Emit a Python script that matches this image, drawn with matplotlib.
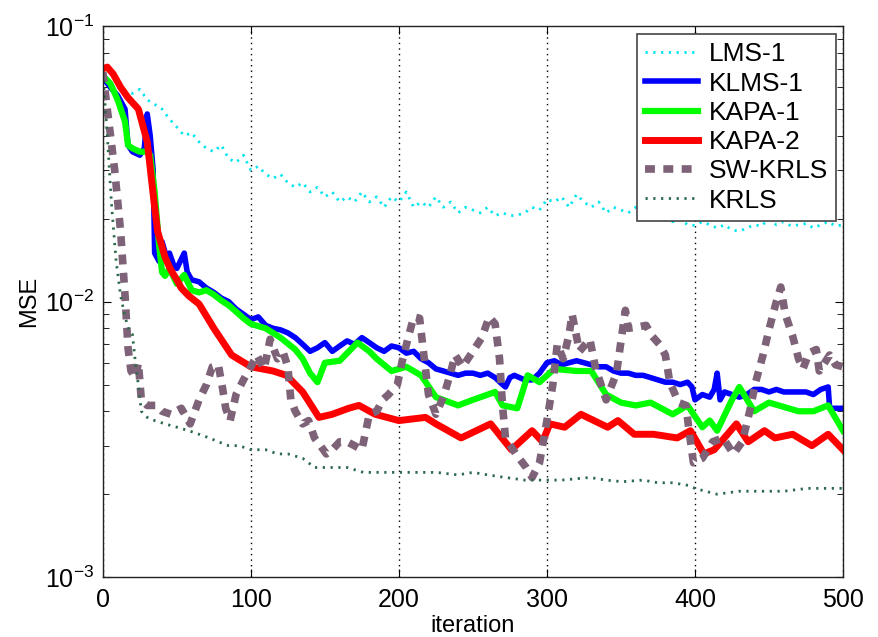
import matplotlib
matplotlib.use("Agg")
import matplotlib.pyplot as plt
from matplotlib.ticker import LogLocator, NullFormatter

plt.rcParams['font.family'] = ['Liberation Sans', 'DejaVu Sans']
plt.rcParams['mathtext.fontset'] = 'custom'
plt.rcParams['mathtext.rm'] = 'Liberation Sans'
plt.rcParams['mathtext.it'] = 'Liberation Sans'

series_names = ["LMS-1", "KLMS-1", "KAPA-1", "KAPA-2", "SW-KRLS", "KRLS"]

lms_x = [5, 10, 15, 20, 25, 30, 35, 40, 45, 50, 55, 60, 65, 70, 75, 80, 85, 90, 95, 100,
         105, 110, 115, 120, 125, 130, 135, 140, 145, 150, 155, 160, 165, 170, 175, 180,
         185, 190, 195, 200, 205, 210, 215, 220, 225, 230, 235, 240, 245, 250, 255, 260,
         265, 270, 275, 280, 285, 290, 295, 300, 305, 310, 315, 320, 325, 330, 335, 340,
         345, 350, 355, 360, 365, 370, 375, 380, 385, 390, 395, 400, 405, 410, 415, 420,
         425, 430, 435, 440, 445, 450, 455, 460, 465, 470, 475, 480, 485, 490, 495, 500]
lms_y = [0.062, 0.060, 0.058, 0.057, 0.059, 0.054, 0.052, 0.050, 0.046, 0.043, 0.040, 0.041, 0.038, 0.036, 0.035, 0.037, 0.033, 0.032, 0.034, 0.030,
         0.031, 0.029, 0.028, 0.029, 0.027, 0.026, 0.027, 0.025, 0.026, 0.024, 0.025, 0.023, 0.024, 0.023, 0.025, 0.023,
         0.024, 0.022, 0.024, 0.023, 0.025, 0.022, 0.023, 0.022, 0.024, 0.022, 0.023, 0.021, 0.022, 0.0215, 0.021, 0.022,
         0.0205, 0.021, 0.0205, 0.0206, 0.021, 0.022, 0.0215, 0.0235, 0.023, 0.024, 0.022, 0.0245, 0.023, 0.022, 0.023, 0.021,
         0.022, 0.0215, 0.021, 0.022, 0.0205, 0.021, 0.020, 0.0205, 0.0195, 0.020, 0.019, 0.0189, 0.0195, 0.019, 0.0185, 0.019,
         0.0182, 0.018, 0.0185, 0.019, 0.0188, 0.020, 0.019, 0.0195, 0.0188, 0.019, 0.0192, 0.0185, 0.019, 0.0195, 0.0188, 0.019]

klms_x = [0, 5, 10, 15, 17, 20, 25, 28, 30, 32, 34, 35, 38, 40, 43, 45, 48, 50, 55, 57, 60, 65, 70, 75, 80, 85, 90,
          95, 100, 105, 110, 115, 120, 125, 130, 135, 140, 145, 150, 155, 160, 165, 170, 175, 180, 185, 190, 195,
          200, 205, 210, 215, 220, 225, 230, 235, 240, 245, 250, 255, 260, 265, 270, 272, 275, 278, 285, 290, 295,
          300, 305, 310, 315, 320, 325, 330, 335, 340, 345, 350, 355, 360, 365, 370, 375, 380, 385, 390, 395, 398,
          400, 405, 410, 413, 415, 417, 420, 425, 430, 435, 440, 445, 450, 455, 460, 465, 470, 475, 480, 485, 490,
          491, 495, 500]
klms_y = [0.065, 0.060, 0.056, 0.050, 0.037, 0.035, 0.034, 0.036, 0.048, 0.040, 0.030, 0.015, 0.014, 0.0165, 0.0145, 0.0150, 0.0135, 0.0132, 0.0150, 0.0128, 0.0120, 0.0118, 0.0112, 0.0108, 0.0103, 0.0100, 0.0094,
          0.0090, 0.0086, 0.0088, 0.0082, 0.0080, 0.0079, 0.0077, 0.0074, 0.0070, 0.0066, 0.0068, 0.0071, 0.0066, 0.0069, 0.0072, 0.0070, 0.0074, 0.0071, 0.0068, 0.0066, 0.0069,
          0.0068, 0.0065, 0.0066, 0.0062, 0.0060, 0.0057, 0.0056, 0.0055, 0.0054, 0.0055, 0.0055, 0.0054, 0.0055, 0.0053, 0.0050, 0.0049, 0.0053, 0.0054, 0.0052, 0.0052, 0.0055,
          0.0060, 0.0061, 0.0059, 0.0060, 0.0061, 0.0060, 0.0059, 0.0058, 0.0058, 0.0056, 0.0055, 0.0055, 0.0054, 0.0054, 0.0053, 0.0052, 0.0051, 0.0051, 0.0050, 0.0051, 0.0049,
          0.0044, 0.0046, 0.0045, 0.0048, 0.0055, 0.0044, 0.0047, 0.0046, 0.0045, 0.0046, 0.0048, 0.0048, 0.0047, 0.0048, 0.0047, 0.0047, 0.0047, 0.0047, 0.0046, 0.0048, 0.0049,
          0.0041, 0.0041, 0.0041]

kapa1_x = [0, 5, 10, 15, 17, 20, 25, 30, 32, 35, 38, 40, 42, 45, 50, 55, 60, 65, 70, 75, 80, 85, 90, 95, 100,
           110, 120, 130, 135, 140, 145, 150, 160, 172, 180, 185, 195, 205, 215, 225, 240, 250, 265, 270, 280,
           287, 295, 305, 320, 330, 340, 350, 360, 370, 385, 395, 405, 410, 415, 425, 430, 440, 450, 470, 480,
           490, 500]
kapa1_y = [0.066, 0.062, 0.054, 0.045, 0.037, 0.036, 0.035, 0.035, 0.034, 0.025, 0.016, 0.0128, 0.0124, 0.0132, 0.0116, 0.0125, 0.0110, 0.0108, 0.0110, 0.0106, 0.0101, 0.0097, 0.0092, 0.0087, 0.0083,
           0.0080, 0.0074, 0.0067, 0.0062, 0.0055, 0.0051, 0.0060, 0.0061, 0.0071, 0.0066, 0.0062, 0.0056, 0.0058, 0.0054, 0.0045, 0.0042, 0.0044, 0.0047, 0.0042, 0.0041,
           0.0054, 0.0051, 0.0057, 0.0056, 0.0056, 0.0046, 0.0043, 0.0042, 0.0043, 0.0039, 0.0042, 0.0035, 0.0037, 0.0034, 0.0044, 0.0049, 0.0040, 0.0043, 0.0040, 0.0040,
           0.0042, 0.0034]

kapa2_x = [0, 3, 7, 12, 17, 24, 30, 35, 37, 42, 46, 50, 53, 58, 65, 75, 87, 100, 115, 124, 135, 146, 155, 166,
           173, 184, 200, 218, 225, 242, 262, 276, 290, 297, 302, 312, 323, 341, 348, 359, 372, 388, 397, 406,
           413, 422, 428, 436, 447, 454, 466, 479, 490, 500]
kapa2_y = [0.070, 0.071, 0.067, 0.060, 0.055, 0.050, 0.038, 0.022, 0.018, 0.0145, 0.0130, 0.0120, 0.0112, 0.0105, 0.0098, 0.0080, 0.0064, 0.0058, 0.0056, 0.0054, 0.0047, 0.0038, 0.0039, 0.0041,
           0.0042, 0.0039, 0.0037, 0.0038, 0.0036, 0.0032, 0.0036, 0.0029, 0.0034, 0.0031, 0.0036, 0.0035, 0.0039, 0.0035, 0.0037, 0.0033, 0.0033, 0.0032, 0.0034, 0.0028,
           0.0029, 0.0033, 0.0036, 0.0031, 0.0034, 0.0032, 0.0033, 0.0030, 0.0033, 0.0029]

swkrls_x = [0, 3, 8, 12, 15, 17, 19, 22, 24, 26, 30, 36, 40, 46, 53, 59, 65, 70, 74, 78, 81, 83, 86, 90, 95, 100,
            104, 109, 113, 118, 122, 125, 127, 130, 135, 139, 143, 147, 151, 155, 160, 165, 170, 175, 180, 185,
            189, 193, 199, 202, 206, 210, 214, 217, 220, 225, 230, 234, 238, 243, 250, 256, 261, 265, 268, 270,
            272, 279, 286, 290, 295, 300, 304, 307, 311, 315, 317, 322, 329, 333, 340, 347, 353, 355, 362, 367,
            371, 376, 380, 383, 389, 394, 396, 399, 405, 412, 419, 426, 432, 437, 441, 446, 450, 455, 458, 461,
            466, 470, 473, 477, 482, 484, 491, 495, 500]
swkrls_y = [0.068, 0.050, 0.030, 0.018, 0.0105, 0.0068, 0.0056, 0.0053, 0.0060, 0.0044, 0.0042, 0.0042, 0.0040, 0.0039, 0.0041, 0.0036, 0.0044, 0.0050, 0.0058, 0.0059, 0.0048, 0.0041, 0.0037, 0.0046, 0.0052, 0.0058,
            0.0064, 0.0057, 0.0073, 0.0062, 0.0065, 0.0058, 0.0044, 0.0040, 0.0036, 0.0037, 0.0032, 0.0030, 0.0028, 0.0029, 0.0031, 0.0031, 0.0030, 0.0029, 0.0039, 0.0040,
            0.0044, 0.0046, 0.0050, 0.0060, 0.0073, 0.0088, 0.0087, 0.0063, 0.0046, 0.0039, 0.0045, 0.0053, 0.0064, 0.0058, 0.0066, 0.0074, 0.0088, 0.0083, 0.0062, 0.0042,
            0.0032, 0.0028, 0.0025, 0.0023, 0.0026, 0.0037, 0.0050, 0.0070, 0.0062, 0.0076, 0.0090, 0.0066, 0.0073, 0.0057, 0.0044, 0.0055, 0.0093, 0.0080, 0.0081, 0.0082,
            0.0075, 0.0070, 0.0064, 0.0051, 0.0043, 0.0042, 0.0034, 0.0026, 0.0027, 0.0031, 0.0032, 0.0028, 0.0031, 0.0040, 0.0051, 0.0064, 0.0079, 0.0100, 0.0113, 0.0090,
            0.0075, 0.0062, 0.0057, 0.0065, 0.0067, 0.0056, 0.0064, 0.0059, 0.0058]

krls_x = [0, 3, 6, 9, 12, 15, 18, 20, 22, 24, 26, 30, 35, 42, 50, 58, 65, 72, 78, 85, 92, 100, 110, 118, 125,
          135, 143, 150, 158, 165, 176, 190, 200, 212, 225, 240, 250, 260, 272, 285, 295, 310, 329, 340, 351,
          365, 375, 385, 396, 400, 407, 415, 430, 445, 460, 476, 490, 500]
krls_y = [0.068, 0.040, 0.022, 0.014, 0.0105, 0.0088, 0.0078, 0.0076, 0.0060, 0.0050, 0.0040, 0.0038, 0.0037, 0.0036, 0.0035, 0.0034, 0.0033, 0.0032, 0.0031, 0.0030, 0.0030, 0.0029, 0.0029, 0.0028, 0.0028,
          0.0027, 0.0025, 0.0025, 0.0025, 0.0025, 0.0024, 0.0024, 0.0024, 0.0024, 0.0024, 0.00235, 0.0024, 0.00235, 0.0023, 0.00225, 0.00225, 0.00225, 0.0023, 0.00225, 0.00222,
          0.00225, 0.0022, 0.0022, 0.00215, 0.0021, 0.00205, 0.0020, 0.00205, 0.00205, 0.00205, 0.0021, 0.0021, 0.0021]

fig = plt.figure(figsize=(8.79, 6.37), dpi=100)
ax = fig.add_axes([0.117, 0.094, 0.842, 0.865])

ax.plot(lms_x, lms_y, color='#00e5ee', lw=2.0, ls=(0, (0.8, 2.0)), label=series_names[0])
ax.plot(klms_x, klms_y, color='#0000ff', lw=4.0, label=series_names[1])
ax.plot(kapa1_x, kapa1_y, color='#00ff00', lw=4.5, label=series_names[2])
ax.plot(kapa2_x, kapa2_y, color='#ff0000', lw=5.0, label=series_names[3])
ax.plot(swkrls_x, swkrls_y, color='#7e6378', lw=5.5, ls=(0, (1.3, 1.1)), label=series_names[4])
ax.plot(krls_x, krls_y, color='#2d6a4c', lw=2.0, ls=(0, (0.8, 2.0)), label=series_names[5])

ax.set_yscale('log')
ax.set_xlim(0, 500)
ax.set_ylim(1e-3, 1e-1)
ax.set_xticks([0, 100, 200, 300, 400, 500])
ax.yaxis.set_major_locator(LogLocator(base=10, numticks=5))
ax.yaxis.set_minor_locator(LogLocator(base=10, subs=range(2, 10), numticks=20))
ax.yaxis.set_minor_formatter(NullFormatter())
ax.tick_params(axis='both', which='both', direction='in', top=True, right=True, labelsize=18)
ax.tick_params(axis='x', which='major', length=6, pad=8)
ax.tick_params(axis='y', which='major', length=6, pad=6)
ax.tick_params(axis='y', which='minor', length=4)
ax.grid(True, axis='x', which='major', color='black', ls=(0, (1, 3)), lw=1.0)
for s in ax.spines.values():
    s.set_linewidth(1.0)
    s.set_color('#222222')

ax.set_xlabel('iteration', fontsize=17, labelpad=2)
ax.set_ylabel('MSE', fontsize=17, labelpad=4)

leg = ax.legend(loc='upper right', bbox_to_anchor=(0.99, 0.985), fontsize=19, fancybox=False,
                framealpha=1, edgecolor='#444444', handlelength=2.0, labelspacing=0.2,
                borderpad=0.3, handletextpad=0.4, borderaxespad=0)
leg.get_frame().set_linewidth(1.2)

fig.savefig('out.png', dpi=100)
